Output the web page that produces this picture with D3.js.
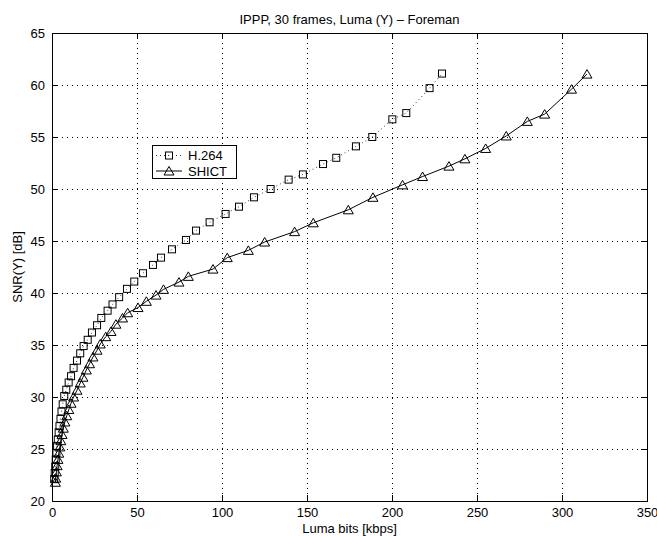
<!DOCTYPE html>
<html>
<head>
<meta charset="utf-8">
<script src="https://cdn.jsdelivr.net/npm/d3@7"></script>
<style>
body { margin: 0; background: #fff; }
text { font-family: "Liberation Sans", Arial, sans-serif; fill: #000; }
</style>
</head>
<body>
<div id="chart"></div>
<script>
var titleText = "IPPP, 30 frames, Luma (Y) \u2013 Foreman";
var xLabel = "Luma bits [kbps]";
var yLabel = "SNR(Y) [dB]";
var xTicks = [0, 50, 100, 150, 200, 250, 300, 350];
var yTicks = [20, 25, 30, 35, 40, 45, 50, 55, 60, 65];
var seriesNames = ["H.264", "SHICT"];

// H.264 rate / snr pairs
var h264Rate = [1.3, 1.6, 1.9, 2.2, 2.6, 3.0, 3.4, 3.9, 4.4, 5.0,
    5.6, 6.3, 7.2, 8.4, 9.8, 11.2, 12.7, 14.7, 16.6, 18.6,
    21.0, 23.5, 26.5, 29.0, 32.7, 35.6, 39.5, 44.1, 48.4, 53.5,
    59.4, 64.1, 70.6, 78.8, 84.7, 92.7, 102.1, 110.0, 118.8, 128.6,
    139.2, 147.6, 159.4, 167.2, 178.8, 188.4, 200.2, 208.4, 222.1, 229.4];
var h264Snr = [22.1, 22.7, 23.3, 24.0, 24.6, 25.3, 25.9, 26.6, 27.2, 27.9,
    28.6, 29.3, 30.1, 30.7, 31.4, 32.0, 32.8, 33.5, 34.2, 34.9,
    35.5, 36.2, 36.9, 37.6, 38.3, 38.9, 39.6, 40.4, 41.1, 41.9,
    42.7, 43.4, 44.2, 45.1, 46.0, 46.8, 47.6, 48.3, 49.2, 50.0,
    50.9, 51.4, 52.4, 53.0, 54.1, 55.0, 56.7, 57.3, 59.7, 61.1];

// SHICT rate / snr pairs
var shictRate = [2.0, 2.2, 2.6, 3.0, 3.5, 4.0, 4.6, 5.2, 5.9, 6.7,
    7.6, 8.7, 9.9, 11.2, 12.7, 14.7, 16.6, 18.2, 20.2, 22.1,
    24.1, 26.5, 28.4, 31.6, 34.7, 37.6, 41.5, 44.5, 50.6, 55.5,
    61.2, 65.6, 74.7, 80.2, 94.7, 103.1, 115.5, 125.1, 142.7, 153.7,
    174.3, 188.8, 206.2, 218.0, 233.5, 242.9, 255.1, 267.2, 279.6, 289.8,
    305.6, 314.7];
var shictSnr = [21.8, 22.2, 22.8, 23.4, 24.0, 24.6, 25.2, 25.8, 26.4, 27.0,
    27.6, 28.2, 28.8, 29.4, 30.0, 30.65, 31.35, 31.9, 32.6, 33.2,
    33.85, 34.5, 35.1, 35.8, 36.3, 37.0, 37.6, 38.1, 38.6, 39.2,
    39.8, 40.35, 41.05, 41.6, 42.3, 43.4, 44.1, 44.9, 45.9, 46.75,
    48.0, 49.2, 50.4, 51.2, 52.2, 52.9, 53.9, 55.1, 56.5, 57.2,
    59.6, 61.05];

var margin = { top: 33, right: 10, bottom: 35, left: 52 },
    width = 595,
    height = 468;

var svg = d3.select("#chart")
    .append("svg")
    .attr("width", 657)
    .attr("height", 536);

var g = svg.append("g")
    .attr("transform", "translate(" + margin.left + "," + margin.top + ")");

var x = d3.scaleLinear()
    .domain([0, 350])
    .range([0, width]);

var y = d3.scaleLinear()
    .domain([20, 65])
    .range([height, 0]);

// dotted grid
g.selectAll(".vgrid")
    .data(xTicks.slice(1, -1))
    .enter().append("line")
    .attr("x1", d => x(d)).attr("x2", d => x(d))
    .attr("y1", 0).attr("y2", height)
    .attr("stroke", "#000")
    .attr("stroke-width", 1)
    .attr("stroke-dasharray", "1,4")
    .attr("shape-rendering", "crispEdges");

g.selectAll(".hgrid")
    .data(yTicks.slice(1, -1))
    .enter().append("line")
    .attr("x1", 0).attr("x2", width)
    .attr("y1", d => y(d)).attr("y2", d => y(d))
    .attr("stroke", "#000")
    .attr("stroke-width", 1)
    .attr("stroke-dasharray", "1,4")
    .attr("shape-rendering", "crispEdges");

// axes with inward ticks
var xAxis = d3.axisBottom(x).tickValues(xTicks).tickSizeInner(-6).tickSizeOuter(0).tickPadding(7);
var yAxis = d3.axisLeft(y).tickValues(yTicks).tickSizeInner(-6).tickSizeOuter(0).tickPadding(7);

var gx = g.append("g")
    .attr("transform", "translate(0," + height + ")")
    .call(xAxis);
var gy = g.append("g").call(yAxis);

g.append("g")
    .call(d3.axisTop(x).tickValues(xTicks).tickSizeInner(-6).tickSizeOuter(0).tickFormat(""));
g.append("g")
    .attr("transform", "translate(" + width + ",0)")
    .call(d3.axisRight(y).tickValues(yTicks).tickSizeInner(-6).tickSizeOuter(0).tickFormat(""));

g.selectAll(".domain").remove();
g.selectAll(".tick line").attr("stroke", "#000").attr("shape-rendering", "crispEdges");
g.selectAll(".tick text").attr("font-size", 13).attr("font-family", "Liberation Sans, Arial, sans-serif");

g.append("rect")
    .attr("x", 0).attr("y", 0)
    .attr("width", width).attr("height", height)
    .attr("fill", "none")
    .attr("stroke", "#000")
    .attr("stroke-width", 1)
    .attr("shape-rendering", "crispEdges");

var h264Data = h264Rate.map((r, i) => ({ x: r, y: h264Snr[i] }));
var shictData = shictRate.map((r, i) => ({ x: r, y: shictSnr[i] }));

var line = d3.line().x(d => x(d.x)).y(d => y(d.y));

g.append("path")
    .datum(h264Data)
    .attr("fill", "none")
    .attr("stroke", "#000")
    .attr("stroke-width", 0.8)
    .attr("stroke-dasharray", "1,3")
    .attr("d", line);

g.append("path")
    .datum(shictData)
    .attr("fill", "none")
    .attr("stroke", "#000")
    .attr("stroke-width", 1)
    .attr("d", line);

function squareMarker(sel, cx, cy) {
    sel.append("rect")
        .attr("x", cx - 3.5).attr("y", cy - 3.5)
        .attr("width", 7).attr("height", 7)
        .attr("fill", "none")
        .attr("stroke", "#000")
        .attr("stroke-width", 1);
}

function triangleMarker(sel, cx, cy) {
    sel.append("path")
        .attr("d", "M" + cx + "," + (cy - 4.5) + "L" + (cx + 5) + "," + (cy + 4) + "L" + (cx - 5) + "," + (cy + 4) + "Z")
        .attr("fill", "none")
        .attr("stroke", "#000")
        .attr("stroke-width", 1);
}

var markers = g.append("g");
h264Data.forEach(d => squareMarker(markers, x(d.x), y(d.y)));
shictData.forEach(d => triangleMarker(markers, x(d.x), y(d.y)));

// title and labels
svg.append("text")
    .attr("x", margin.left + width / 2)
    .attr("y", 24)
    .attr("text-anchor", "middle")
    .attr("font-size", 13)
    .text(titleText);

svg.append("text")
    .attr("x", margin.left + width / 2)
    .attr("y", 533)
    .attr("text-anchor", "middle")
    .attr("font-size", 13)
    .text(xLabel);

svg.append("text")
    .attr("transform", "translate(22," + (margin.top + height / 2) + ") rotate(-90)")
    .attr("text-anchor", "middle")
    .attr("font-size", 13)
    .text(yLabel);

// legend
var legend = svg.append("g");
legend.append("rect")
    .attr("x", 152.5).attr("y", 145.5)
    .attr("width", 84).attr("height", 33)
    .attr("fill", "#fff")
    .attr("stroke", "#000")
    .attr("stroke-width", 1);

var legendRows = [155.5, 171];
legend.append("line")
    .attr("x1", 156).attr("x2", 182)
    .attr("y1", legendRows[0]).attr("y2", legendRows[0])
    .attr("stroke", "#000").attr("stroke-width", 0.8)
    .attr("stroke-dasharray", "1,3");
squareMarker(legend, 169, legendRows[0]);
legend.append("line")
    .attr("x1", 156).attr("x2", 182)
    .attr("y1", legendRows[1]).attr("y2", legendRows[1])
    .attr("stroke", "#000").attr("stroke-width", 1);
triangleMarker(legend, 169, legendRows[1]);

legend.selectAll(".ltext")
    .data(seriesNames)
    .enter().append("text")
    .attr("x", 188)
    .attr("y", (d, i) => legendRows[i] + 4.5)
    .attr("font-size", 13)
    .text(d => d);
</script>
</body>
</html>
